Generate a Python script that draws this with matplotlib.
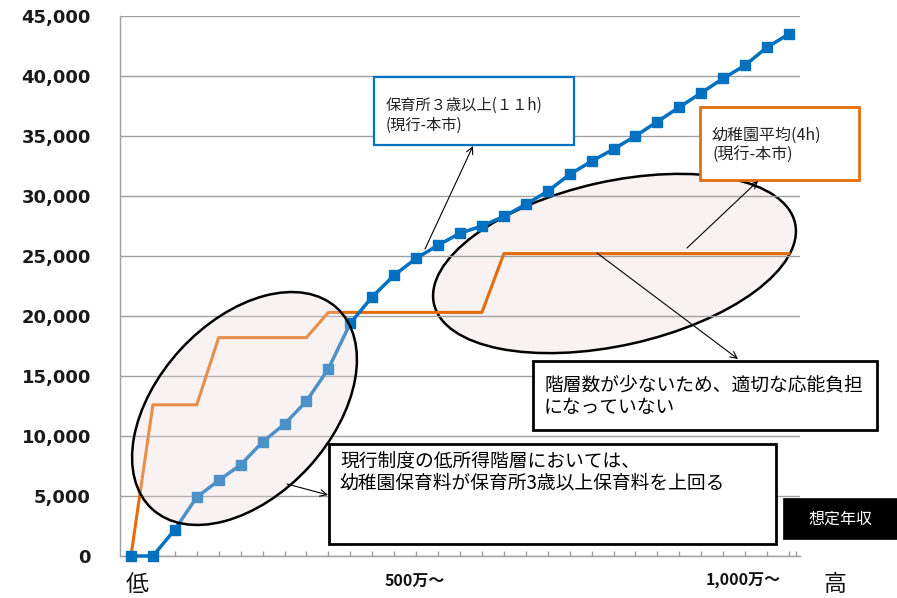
import matplotlib
matplotlib.use('Agg')
import matplotlib.pyplot as plt
from matplotlib.patches import Ellipse, Rectangle
from matplotlib.ticker import FuncFormatter, FixedLocator
import matplotlib.transforms as mtransforms

plt.rcParams['font.family'] = ['Noto Sans CJK JP', 'DejaVu Sans']

# ---- data ----
hoikusho = [0, 0, 2200, 4900, 6300, 7600, 9500, 11000, 12900, 15600, 19400,
            21600, 23400, 24800, 25900, 26900, 27500, 28300, 29300, 30400,
            31800, 32900, 33900, 35000, 36200, 37400, 38600, 39800, 40900,
            42400, 43500]
youchien = [0, 12600, 12600, 12600, 18200, 18200, 18200, 18200, 18200,
            20300, 20300, 20300, 20300, 20300, 20300, 20300, 20300,
            25200, 25200, 25200, 25200, 25200, 25200, 25200, 25200, 25200,
            25200, 25200, 25200, 25200, 25200]
x_labels = ['低', '500万～', '1,000万～', '高']
x_label_pos = [0.27, 12.95, 27.9, 32.1]
y_ticks = [0, 5000, 10000, 15000, 20000, 25000, 30000, 35000, 40000, 45000]

BLUE = '#0070C0'
ORANGE = '#E46C0A'
GRID = '#A0A0A0'

W, H = 897, 598
fig = plt.figure(figsize=(W / 100, H / 100), dpi=100)
L, R, T, B = 120, 800, 16, 556
ax = fig.add_axes([L / W, (H - B) / H, (R - L) / W, (B - T) / H])
ax.set_zorder(1)

# overlay in pixel coordinates for annotations
ov = fig.add_axes([0, 0, 1, 1])
ov.set_zorder(2)
ov.set_xlim(0, W)
ov.set_ylim(H, 0)
ov.axis('off')
ov.patch.set_alpha(0)

x = list(range(len(hoikusho)))
ax.plot(x, youchien, color=ORANGE, lw=2.2, zorder=3, clip_on=False)
ax.plot(x, hoikusho, color=BLUE, lw=2.5, marker='s', ms=7, zorder=4,
        clip_on=False)

ax.set_xlim(-0.5, len(hoikusho) - 0.5)
ax.set_ylim(0, 45000)
ax.set_yticks(y_ticks)
ax.yaxis.set_major_formatter(FuncFormatter(lambda v, p: f'{int(v):,}'))
ax.grid(axis='y', color=GRID, lw=1.0)
ax.set_axisbelow(True)
for s in ['top', 'right']:
    ax.spines[s].set_visible(False)
for s in ['left', 'bottom']:
    ax.spines[s].set_color(GRID)
    ax.spines[s].set_linewidth(1.0)
ax.tick_params(axis='y', length=0, pad=21)
for lab in ax.get_yticklabels():
    lab.set_family('DejaVu Sans')
    lab.set_fontweight('bold')
    lab.set_fontsize(13)
    lab.set_color('#1a1a1a')
ax.set_xticks([])
ax.xaxis.set_minor_locator(FixedLocator(list(range(1, len(hoikusho))) + [30.3]))
ax.tick_params(axis='x', which='minor', direction='in', length=3.5,
               color=GRID, width=1.0)

trans = mtransforms.blended_transform_factory(ax.transData, ax.transAxes)
sizes = [16.5, 11.5, 11.5, 16.5]
weights = ['normal', 'bold', 'bold', 'normal']
ys = [-0.052, -0.046, -0.046, -0.052]
for lab, pos, sz, wt, yy in zip(x_labels, x_label_pos, sizes, weights, ys):
    ax.text(pos, yy, lab, transform=trans, ha='center', va='center',
            fontsize=sz, fontweight=wt, color='#111111', clip_on=False)

fill = (238 / 255, 215 / 255, 215 / 255, 0.32)
# left ellipse drawn over the lines
ov.add_patch(Ellipse((244.5, 408.5), 273, 174, angle=-47.4,
                     facecolor=fill, edgecolor='black', lw=1.8))
# right ellipse drawn beneath the gridlines and lines
ax.add_patch(Ellipse((614.5, 263.5), 370, 164, angle=-12.6,
                     transform=ov.transData, clip_on=False, zorder=0.3,
                     facecolor=fill, edgecolor='black', lw=1.8))


def box(x0, y0, x1, y1, ec, lw, fc='white'):
    ov.add_patch(Rectangle((x0, y0), x1 - x0, y1 - y0, facecolor=fc,
                           edgecolor=ec, lw=lw, zorder=5))


def arrow(tail, head):
    ov.annotate('', xy=head, xytext=tail, zorder=6,
                arrowprops=dict(arrowstyle='->', lw=0.8, color='black',
                                shrinkA=0, shrinkB=0, mutation_scale=12))


# blue box
box(374, 77, 574, 145, BLUE, 1.6)
ov.text(386, 105, '保育所３歳以上(１１h)', fontsize=11, va='center', ha='left',
        color='#222222', zorder=7)
ov.text(386, 125, '(現行-本市)', fontsize=11, va='center', ha='left',
        color='#222222', zorder=7)
arrow((425, 249), (473, 146))

# orange box
box(700, 107, 859, 180, ORANGE, 2.0)
ov.text(712, 135, '幼稚園平均(4h)', fontsize=11.5, va='center', ha='left',
        color='#222222', zorder=7)
ov.text(712, 155, '(現行-本市)', fontsize=11.5, va='center', ha='left',
        color='#222222', zorder=7)
arrow((687, 248), (758, 181))

# box 3
box(533, 361, 877, 430, 'black', 2.0)
ov.text(544, 386, '階層数が少ないため、適切な応能負担', fontsize=13.5,
        va='center', ha='left', color='black', zorder=7)
ov.text(544, 407, 'になっていない', fontsize=13.5, va='center', ha='left',
        color='black', zorder=7)
arrow((597, 253), (738, 359))

# box 4
box(329, 444, 776, 544, 'black', 2.0)
ov.text(340, 461, '現行制度の低所得階層においては、', fontsize=13.5,
        va='center', ha='left', color='black', zorder=7)
ov.text(340, 483, '幼稚園保育料が保育所3歳以上保育料を上回る', fontsize=13.5,
        va='center', ha='left', color='black', zorder=7)
arrow((287, 484), (328, 495))

# 想定年収 label
box(783, 498, 900, 539, 'black', 0.5, fc='black')
ov.text(840, 519, '想定年収', fontsize=11.5, va='center', ha='center',
        color='white', zorder=7)

fig.savefig('out.png', dpi=100)
